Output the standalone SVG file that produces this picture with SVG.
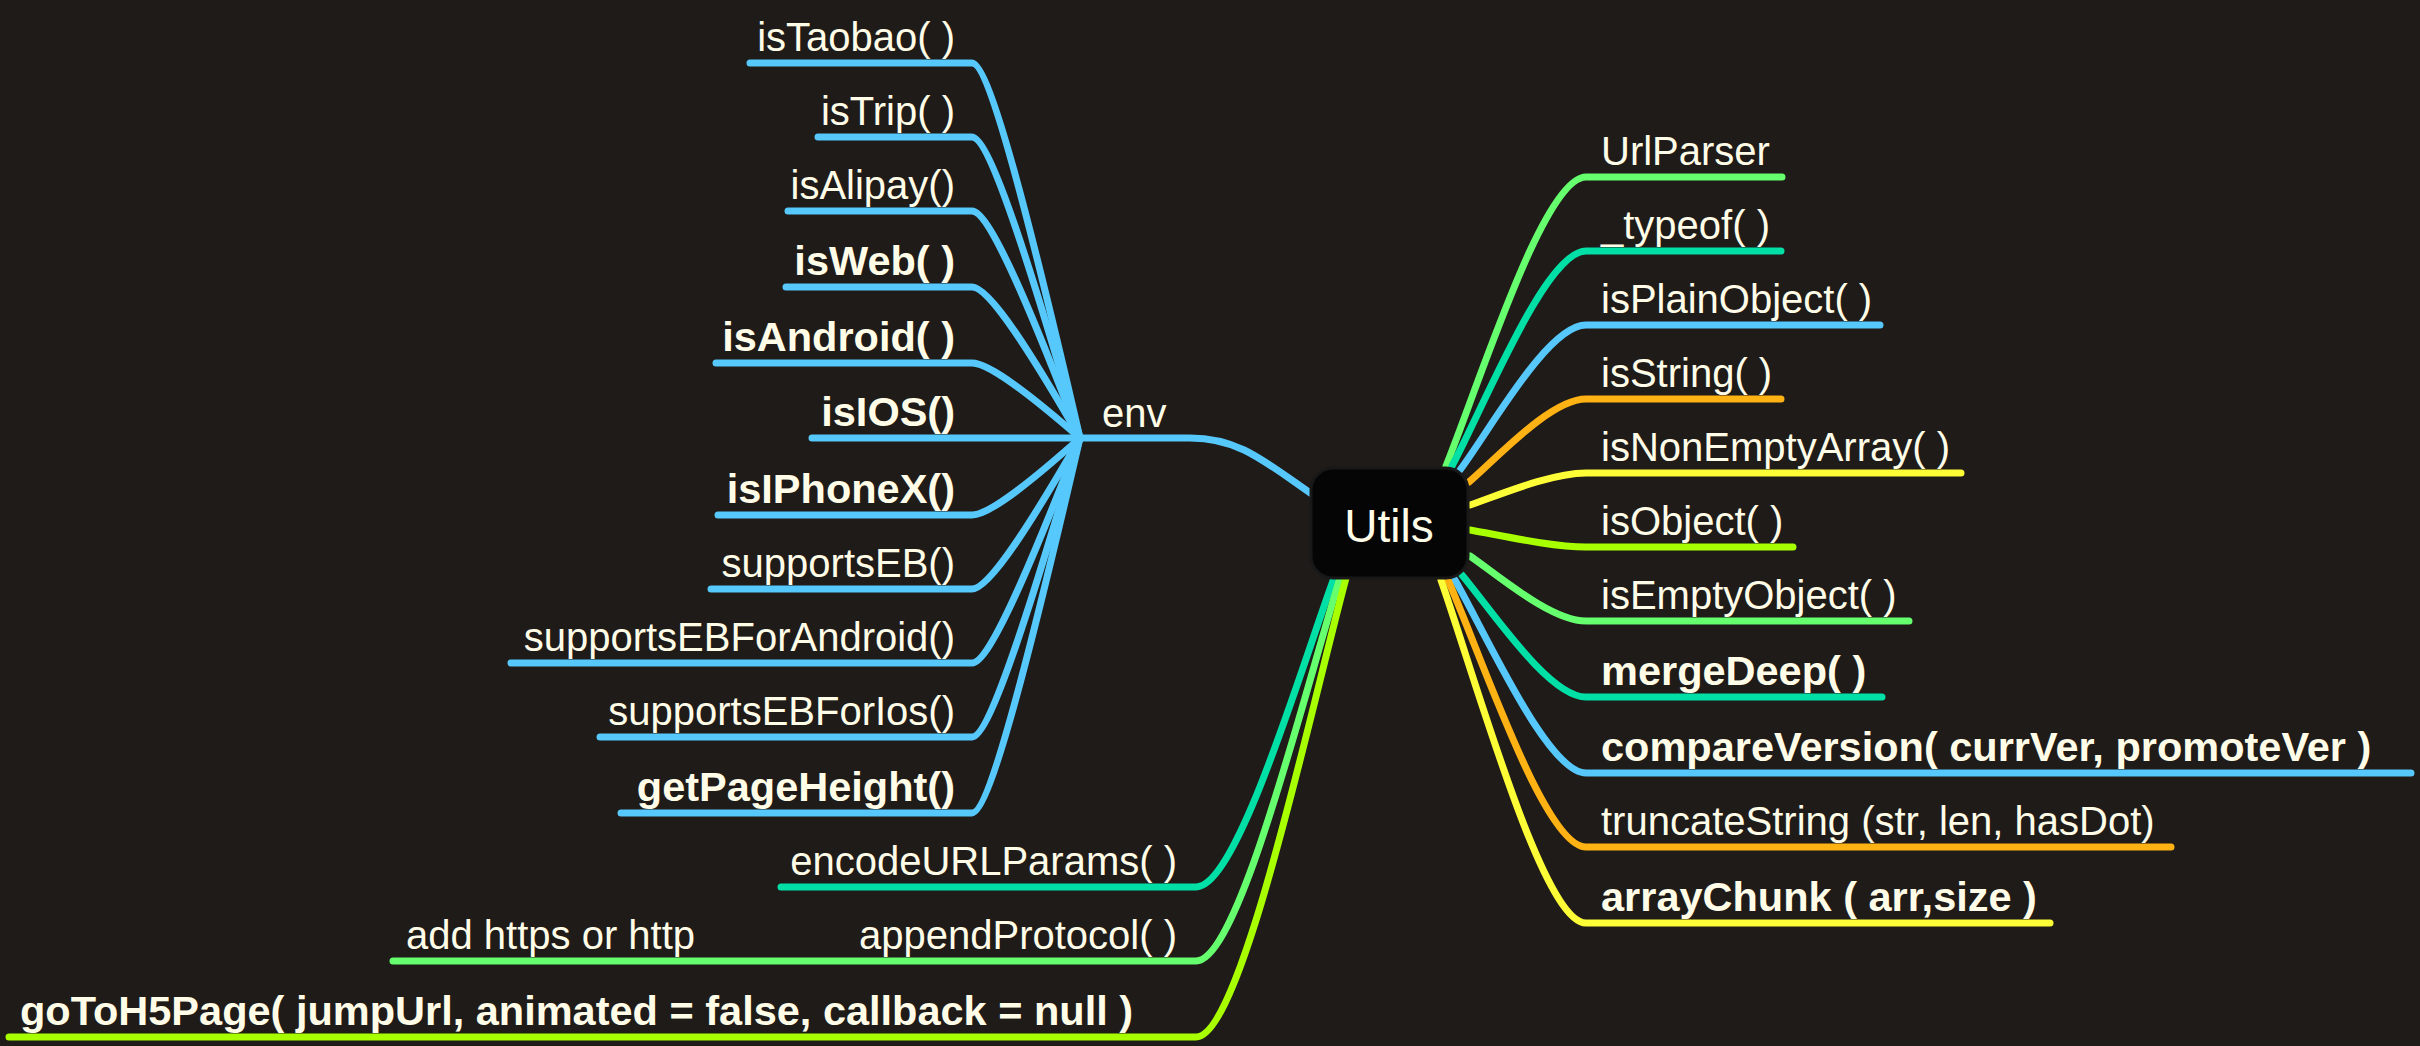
<svg xmlns="http://www.w3.org/2000/svg" width="2420" height="1046" viewBox="0 0 2420 1046">
<style>
.bg{fill:#1f1b18}
.c{fill:none;stroke-width:7;stroke-linecap:round;stroke-linejoin:round}
.blue{stroke:#56c8fc}.green{stroke:#66ff6e}.teal{stroke:#00e0a6}.orange{stroke:#ffb214}.yellow{stroke:#fdfd37}.lime{stroke:#a8ff00}
text{font-family:"Liberation Sans",Arial,sans-serif;fill:#fffde8;font-size:40px}
.b{font-weight:bold;font-size:41.5px}
.l{font-weight:300}
.r{text-anchor:end}
</style>
<rect class="bg" x="0" y="0" width="2420" height="1046"/>
<g id="connectors">
<path class="c blue" d="M1316,497 C1265,462 1240,438 1190,438 L1080,438"/>
<path class="c blue" d="M1080,438 C1034,239 990,63 972,63 L750,63"/>
<path class="c blue" d="M1080,438 C1034,278 990,137 972,137 L818,137"/>
<path class="c blue" d="M1080,438 C1034,318 990,211 972,211 L788,211"/>
<path class="c blue" d="M1080,438 C1034,358 990,287 972,287 L786,287"/>
<path class="c blue" d="M1080,438 C1034,398 990,363 972,363 L716,363"/>
<path class="c blue" d="M1080,438 L812,438"/>
<path class="c blue" d="M1080,438 C1034,479 990,515 972,515 L718,515"/>
<path class="c blue" d="M1080,438 C1034,518 990,589 972,589 L711,589"/>
<path class="c blue" d="M1080,438 C1034,557 990,663 972,663 L511,663"/>
<path class="c blue" d="M1080,438 C1034,596 990,737 972,737 L600,737"/>
<path class="c blue" d="M1080,438 C1034,637 990,813 972,813 L621,813"/>
<path class="c teal" d="M1334,578 C1300,671 1237,887 1196,887 L781,887"/>
<path class="c green" d="M1340,578 C1304,693 1239,961 1196,961 L393,961"/>
<path class="c lime" d="M1346,578 C1309,716 1241,1037 1196,1037 L9,1037"/>
<path class="c green" d="M1446,466 C1481,379 1544,177 1586,177 L1782,177"/>
<path class="c teal" d="M1452,466 C1486,402 1546,251 1586,251 L1781,251"/>
<path class="c blue" d="M1460,470 C1492,427 1548,325 1586,325 L1880,325"/>
<path class="c orange" d="M1469,482 C1498,457 1551,399 1586,399 L1781,399"/>
<path class="c yellow" d="M1470,505 C1499,495 1551,473 1586,473 L1961,473"/>
<path class="c lime" d="M1470,530 C1499,535 1551,547 1586,547 L1793,547"/>
<path class="c green" d="M1470,556 C1499,576 1551,621 1586,621 L1909,621"/>
<path class="c teal" d="M1462,575 C1493,612 1549,697 1586,697 L1882,697"/>
<path class="c blue" d="M1455,580 C1488,638 1548,773 1586,773 L2411,773"/>
<path class="c orange" d="M1448,580 C1483,660 1545,847 1586,847 L2171,847"/>
<path class="c yellow" d="M1441,580 C1477,683 1543,923 1586,923 L2050,923"/>
</g>
<g id="utils">
<rect x="1311" y="468" width="157" height="110" rx="22" fill="#050505" stroke="#181818" stroke-width="3"/>
<text x="1389" y="542" text-anchor="middle" class="l" style="font-size:46px">Utils</text>
</g>
<g id="env"><text x="1102" y="427" class="l">env</text></g>
<g id="isTaobao"><text x="955" y="51" class="l r">isTaobao( )</text></g>
<g id="isTrip"><text x="955" y="125" class="l r">isTrip( )</text></g>
<g id="isAlipay"><text x="955" y="199" class="l r">isAlipay()</text></g>
<g id="isWeb"><text x="955" y="275" class="b r">isWeb( )</text></g>
<g id="isAndroid"><text x="955" y="351" class="b r">isAndroid( )</text></g>
<g id="isIOS"><text x="955" y="426" class="b r">isIOS()</text></g>
<g id="isIPhoneX"><text x="955" y="503" class="b r">isIPhoneX()</text></g>
<g id="supportsEB"><text x="955" y="577" class="l r">supportsEB()</text></g>
<g id="supportsEBForAndroid"><text x="955" y="651" class="l r">supportsEBForAndroid()</text></g>
<g id="supportsEBForIos"><text x="955" y="725" class="l r">supportsEBForIos()</text></g>
<g id="getPageHeight"><text x="955" y="801" class="b r">getPageHeight()</text></g>
<g id="encodeURLParams"><text x="1177" y="875" class="l r">encodeURLParams( )</text></g>
<g id="appendProtocol"><text x="1177" y="949" class="l r">appendProtocol( )</text><text x="406" y="949" class="l">add https or http</text></g>
<g id="goToH5Page"><text x="20" y="1025" class="b">goToH5Page( jumpUrl, animated = false, callback = null )</text></g>
<g id="UrlParser"><text x="1601" y="165" class="l">UrlParser</text></g>
<g id="typeof"><text x="1601" y="239" class="l">_typeof( )</text></g>
<g id="isPlainObject"><text x="1601" y="313" class="l">isPlainObject( )</text></g>
<g id="isString"><text x="1601" y="387" class="l">isString( )</text></g>
<g id="isNonEmptyArray"><text x="1601" y="461" class="l">isNonEmptyArray( )</text></g>
<g id="isObject"><text x="1601" y="535" class="l">isObject( )</text></g>
<g id="isEmptyObject"><text x="1601" y="609" class="l">isEmptyObject( )</text></g>
<g id="mergeDeep"><text x="1601" y="685" class="b">mergeDeep( )</text></g>
<g id="compareVersion"><text x="1601" y="761" class="b">compareVersion( currVer, promoteVer )</text></g>
<g id="truncateString"><text x="1601" y="835" class="l">truncateString (str, len, hasDot)</text></g>
<g id="arrayChunk"><text x="1601" y="911" class="b">arrayChunk ( arr,size )</text></g>
</svg>
